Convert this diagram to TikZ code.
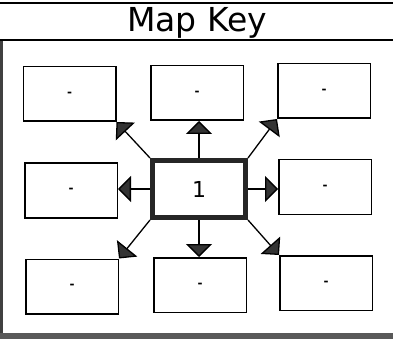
\documentclass[tikz,border=0pt]{standalone}
\usepackage{fontspec}
\setmainfont{DejaVu Sans}
\usetikzlibrary{arrows.meta}
\begin{document}
\begin{tikzpicture}[x=1pt,y=-1pt,
  keybox/.style={draw=black, line width=1.5pt, minimum width=92.5pt, minimum height=54.5pt, inner sep=0pt, font=\fontsize{12}{12}\bfseries\selectfont},
  hub/.style={draw=black!85, line width=5pt, minimum width=93pt, minimum height=57pt, inner sep=0pt, font=\fontsize{22}{22}\selectfont},
  link/.style={line width=1.3pt, -{Triangle[length=13pt,width=26pt,fill=black!80]}, draw=black}
]
\useasboundingbox (0,0) rectangle (393,339);
\fill[white] (0,0) rectangle (393,339);
% title rules and frame
\draw[line width=2pt] (0,3) -- (393,3);
\draw[line width=2pt] (0,40.5) -- (393,40.5);
\node[font=\fontsize{33}{33}\selectfont, anchor=base] (title) at (197,32) {Map Key};
\fill[black!75] (0,41) rectangle (3,339);
\fill[black!65] (0,333) rectangle (393,339);
% boxes
\node[keybox] (tl) at (69.5,94) {-};
\node[keybox] (tm) at (197,93) {-};
\node[keybox] (tr) at (324,91) {-};
\node[keybox] (ml) at (71,190.5) {-};
\node[keybox] (mr) at (325,187) {-};
\node[keybox] (bl) at (72,286.5) {-};
\node[keybox] (bm) at (200,285) {-};
\node[keybox] (br) at (326,283) {-};
\node[hub] (c) at (199,189) {1};
% connectors
\draw[link] (c.north west) -- (tl.south east);
\draw[link] (c.north) -- (c.north |- tm.south);
\draw[link] (c.north east) -- (tr.south west);
\draw[link] (c.west) -- (c.west -| ml.east);
\draw[link] (c.east) -- (c.east -| mr.west);
\draw[link] (c.south west) -- (bl.north east);
\draw[link] (c.south) -- (c.south |- bm.north);
\draw[link] (c.south east) -- (br.north west);
\end{tikzpicture}
\end{document}
